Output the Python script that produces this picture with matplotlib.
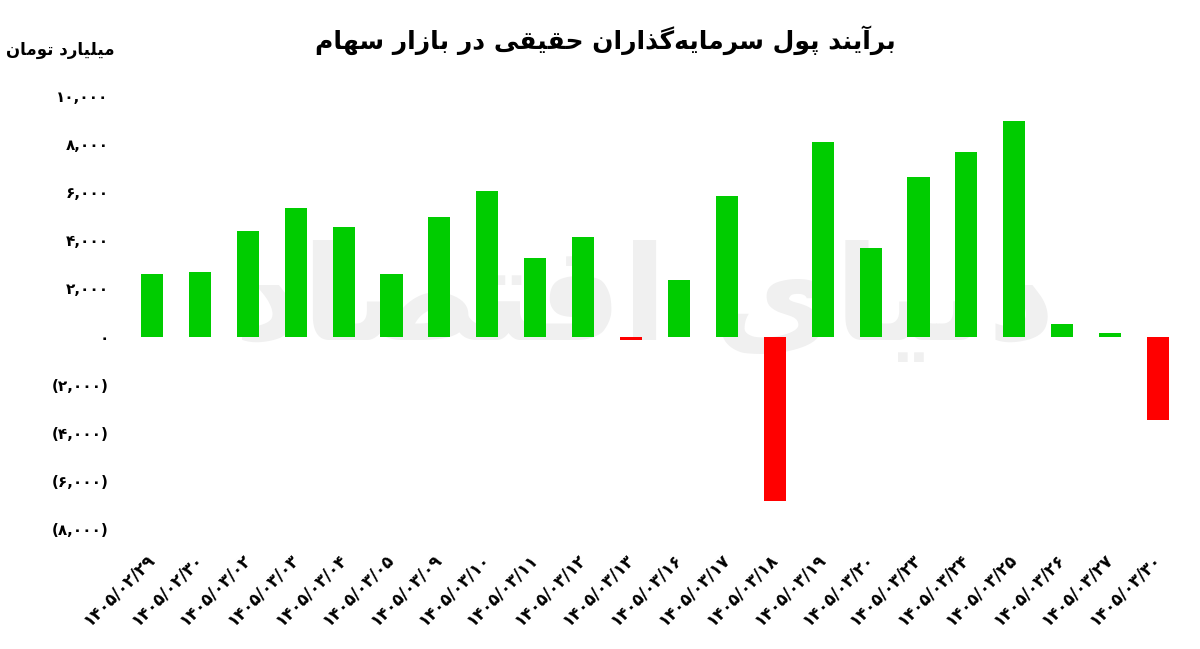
import matplotlib
matplotlib.use('Agg')
import matplotlib.pyplot as plt
from matplotlib.ticker import FixedLocator

# ---------------- data ----------------
dates = ['1405/02/29', '1405/02/30', '1405/03/02', '1405/03/03', '1405/03/04',
         '1405/03/05', '1405/03/09', '1405/03/10', '1405/03/11', '1405/03/12',
         '1405/03/13', '1405/03/16', '1405/03/17', '1405/03/18', '1405/03/19',
         '1405/03/20', '1405/03/23', '1405/03/24', '1405/03/25', '1405/03/26',
         '1405/03/27', '1405/03/30']
values = [2600, 2700, 4400, 5350, 4550, 2600, 4950, 6050, 3250, 4150,
          -150, 2350, 5850, -6850, 8100, 3680, 6630, 7660, 8940, 530,
          150, -3460]
yticks = [-8000, -6000, -4000, -2000, 0, 2000, 4000, 6000, 8000, 10000]
title_text = 'برآیند پول سرمایه\u200cگذاران حقیقی در بازار سهام'
unit_text = 'میلیارد تومان'
watermark_text = 'دنیای اقتصاد'

# ---------------- minimal Persian shaping ----------------
FORMS = {
    '\u0627': ('\uFE8D', '\uFE8E', None, None),
    '\u0622': ('\uFE81', '\uFE82', None, None),
    '\u0628': ('\uFE8F', '\uFE90', '\uFE91', '\uFE92'),
    '\u067E': ('\uFB56', '\uFB57', '\uFB58', '\uFB59'),
    '\u062A': ('\uFE95', '\uFE96', '\uFE97', '\uFE98'),
    '\u062D': ('\uFEA1', '\uFEA2', '\uFEA3', '\uFEA4'),
    '\u062F': ('\uFEA9', '\uFEAA', None, None),
    '\u0630': ('\uFEAB', '\uFEAC', None, None),
    '\u0631': ('\uFEAD', '\uFEAE', None, None),
    '\u0632': ('\uFEAF', '\uFEB0', None, None),
    '\u0633': ('\uFEB1', '\uFEB2', '\uFEB3', '\uFEB4'),
    '\u0635': ('\uFEB9', '\uFEBA', '\uFEBB', '\uFEBC'),
    '\u0642': ('\uFED5', '\uFED6', '\uFED7', '\uFED8'),
    '\u06AF': ('\uFB92', '\uFB93', '\uFB94', '\uFB95'),
    '\u0644': ('\uFEDD', '\uFEDE', '\uFEDF', '\uFEE0'),
    '\u0645': ('\uFEE1', '\uFEE2', '\uFEE3', '\uFEE4'),
    '\u0646': ('\uFEE5', '\uFEE6', '\uFEE7', '\uFEE8'),
    '\u0647': ('\uFEE9', '\uFEEA', '\uFEEB', '\uFEEC'),
    '\u0648': ('\uFEED', '\uFEEE', None, None),
    '\u06CC': ('\uFBFC', '\uFBFD', '\uFBFE', '\uFBFF'),
}


def shape(s):
    out = []
    n = len(s)
    for i, c in enumerate(s):
        if c not in FORMS:
            if c != '\u200c':
                out.append(c)
            continue
        f = FORMS[c]
        prev = s[i - 1] if i > 0 else None
        nxt = s[i + 1] if i < n - 1 else None
        jp = prev in FORMS and FORMS[prev][2] is not None
        jn = f[2] is not None and nxt in FORMS
        if jp and jn:
            g = f[3]
        elif jp:
            g = f[1]
        elif jn:
            g = f[2]
        else:
            g = f[0]
        out.append(g)
    return ''.join(reversed(out))


FA = str.maketrans('0123456789', '۰۱۲۳۴۵۶۷۸۹')


def fa_num(v):
    s = '{:,}'.format(abs(v)).translate(FA)
    return '(' + s + ')' if v < 0 else s


# ---------------- figure ----------------
plt.rcParams['font.family'] = ['DejaVu Sans']
fig = plt.figure(figsize=(12, 6.49), dpi=100)
W, H = 1200, 649
ax = fig.add_axes([128 / W, 1 - 529 / H, (1182 - 128) / W, (529 - 96) / H])

x = list(range(len(values)))
colors = ['#00CC00' if v >= 0 else '#FF0000' for v in values]
ax.bar(x, values, width=0.46, color=colors, zorder=3)

ax.set_xlim(-0.5, len(values) - 0.5)
ax.set_ylim(-8000, 10000)
ax.yaxis.set_major_locator(FixedLocator(yticks))
ax.set_yticklabels([fa_num(v) for v in yticks], fontsize=11, fontweight='bold')
ax.set_xticks(x)
ax.set_xticklabels([d.translate(FA) for d in dates], rotation=45, ha='right',
                   va='center', rotation_mode='anchor', fontsize=12,
                   fontweight='bold')
ax.tick_params(axis='both', length=0)
ax.tick_params(axis='x', pad=20)
ax.tick_params(axis='y', pad=14)
for sp in ax.spines.values():
    sp.set_visible(False)

# watermark
ax.text(0.49, 0.52, shape(watermark_text), transform=ax.transAxes,
        fontsize=95, color='#f0f0f0', ha='center', va='center',
        fontweight='bold', zorder=1)

fig.text(605 / W, 1 - 40 / H, shape(title_text), ha='center', va='center',
         fontsize=18, fontweight='bold')
fig.text(115 / W, 1 - 50 / H, shape(unit_text), ha='right', va='center',
         fontsize=12, fontweight='bold')

fig.savefig('out.png', dpi=100, facecolor='white')
